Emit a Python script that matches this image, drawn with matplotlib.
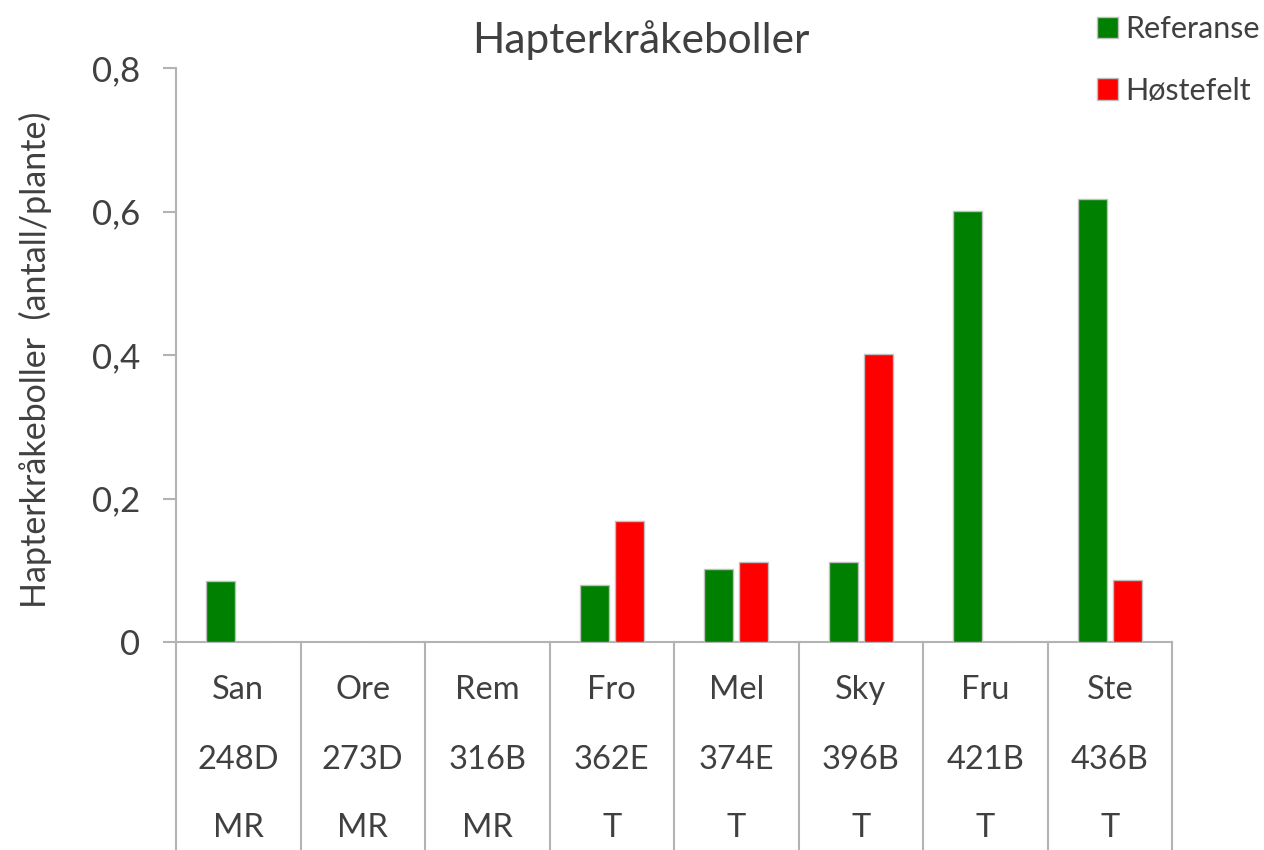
import matplotlib.pyplot as plt
import matplotlib.transforms as mtransforms
import numpy as np

plt.rcParams['font.family'] = ['Lato', 'DejaVu Sans']

# data
steder = ['San', 'Ore', 'Rem', 'Fro', 'Mel', 'Sky', 'Fru', 'Ste']
koder = ['248D', '273D', '316B', '362E', '374E', '396B', '421B', '436B']
typer = ['MR', 'MR', 'MR', 'T', 'T', 'T', 'T', 'T']
referanse = [0.085, 0, 0, 0.079, 0.102, 0.112, 0.601, 0.617]
hostefelt = [0, 0, 0, 0.169, 0.112, 0.402, 0, 0.086]

tekst = '#404040'
grid_grey = '#b3b3b3'

fig = plt.figure(figsize=(12.64, 8.5), dpi=100)
ax = fig.add_axes([176/1264, 1-642/850, (1172-176)/1264, (642-68)/850])

x = np.arange(len(steder))
bw = 0.233
ax.bar(x - 0.14, referanse, bw, color='#008000', edgecolor='#bfbfbf', linewidth=1, label='Referanse', zorder=3)
ax.bar(x + 0.14, hostefelt, bw, color='#ff0000', edgecolor='#bfbfbf', linewidth=1, label='Høstefelt', zorder=3)

ax.set_xlim(-0.5, len(steder) - 0.5)
ax.set_ylim(0, 0.8)
ax.set_yticks([0, 0.2, 0.4, 0.6, 0.8])
ax.set_yticklabels(['0', '0,2', '0,4', '0,6', '0,8'])
ax.tick_params(axis='y', length=9.5, width=1.5, color=grid_grey, labelsize=25, labelcolor=tekst, pad=16)
ax.set_xticks([])

for s in ['top', 'right']:
    ax.spines[s].set_visible(False)
for s in ['left', 'bottom']:
    ax.spines[s].set_color(grid_grey)
    ax.spines[s].set_linewidth(1.5)

# kategoriakse med flere nivaaer
trans = mtransforms.blended_transform_factory(ax.transData, ax.transAxes)
bunn = -208/574
for i in range(len(steder) + 1):
    ax.plot([i - 0.5, i - 0.5], [0, bunn], transform=trans, color=grid_grey, lw=1.5, clip_on=False)
for i in range(len(steder)):
    ax.text(x[i], -48/574, steder[i], transform=trans, ha='center', va='center', fontsize=23.5, color=tekst)
    ax.text(x[i], -118/574, koder[i], transform=trans, ha='center', va='center', fontsize=23.5, color=tekst)
    ax.text(x[i], -186/574, typer[i], transform=trans, ha='center', va='center', fontsize=23.5, color=tekst)

fig.text(641/1264, 1-40/850, 'Hapterkråkeboller', ha='center', va='center', fontsize=30.5, color=tekst)
fig.text(35/1264, 1-360/850, 'Hapterkråkeboller  (antall/plante)', rotation=90, ha='center', va='center',
         fontsize=24.5, color=tekst)

fig.legend(loc='upper right', bbox_to_anchor=(1.009, 1.0), frameon=False, fontsize=22,
           labelcolor=tekst, handlelength=0.7, handleheight=0.7, handletextpad=0.25,
           labelspacing=1.1, borderaxespad=0.1)

plt.savefig('out.png')
